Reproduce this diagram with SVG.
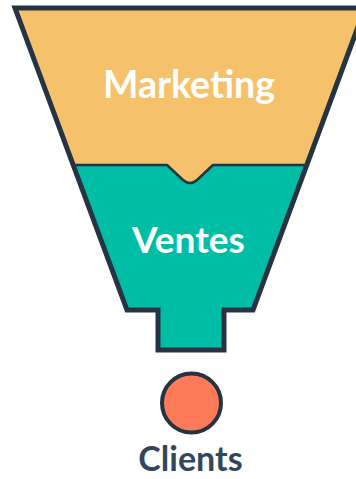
<svg xmlns="http://www.w3.org/2000/svg" width="356" height="479" viewBox="0 0 356 479">
<style>
.lbl{font-family:Lato,"Open Sans","Liberation Sans",sans-serif;font-weight:700;text-anchor:middle}
.w{fill:#ffffff}
.edge{fill:none;stroke:#253342;stroke-width:5;stroke-linejoin:miter}
</style>
<rect width="356" height="479" fill="#ffffff"/>
<g id="marketing">
<path d="M15,8 L365,8 L306.8,165 L213,165 L197,180 Q190,186 183,180 L167,165 L73.2,165 Z" fill="#F5C26B"/>
<text class="lbl w" x="189" y="98" font-size="37.5">Marketing</text>
</g>
<g id="ventes">
<path d="M73.2,165 L167,165 L183,180 Q190,186 197,180 L213,165 L306.8,165 L253,310 L224,310 L224,350 L158,350 L158,310 L127,310 Z" fill="#00BDA5" stroke="#253342" stroke-width="2.5" stroke-linejoin="round"/>
<text class="lbl w" x="188.5" y="253" font-size="37">Ventes</text>
</g>
<g id="outline">
<path class="edge" d="M15,8 L365,8 L253,310 L224,310 L224,350 L158,350 L158,310 L127,310 Z"/>
</g>
<g id="connectors"></g>
<g id="clients">
<circle cx="191.5" cy="403" r="29.5" fill="#FF7A59" stroke="#253342" stroke-width="4"/>
<text class="lbl" x="190.5" y="471" font-size="34" fill="#33475B">Clients</text>
</g>
</svg>
